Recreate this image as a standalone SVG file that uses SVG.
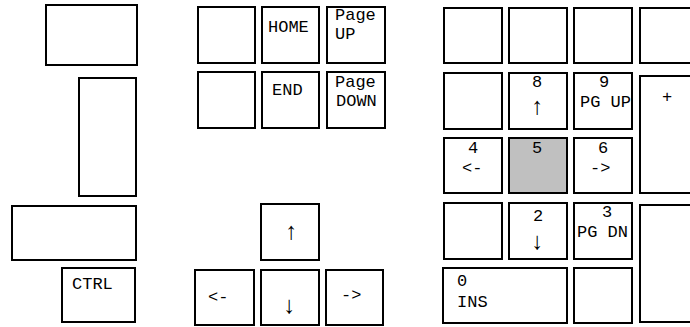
<svg xmlns="http://www.w3.org/2000/svg" width="690" height="327" viewBox="0 0 690 327">
<style>
.k{fill:#fff;stroke:#000;stroke-width:2}
.g{fill:#c0c0c0;stroke:#000;stroke-width:2}
.t{font-family:"Liberation Mono","DejaVu Sans Mono",monospace;font-size:17px;fill:#000}
.m{text-anchor:middle}
.a{font-size:24px}
</style>
<rect width="690" height="327" fill="#fff"/>
<g id="left-a"><rect class="k" x="46" y="5" width="91" height="60"/></g>
<g id="left-b"><rect class="k" x="79" y="78" width="57" height="118"/></g>
<g id="left-c"><rect class="k" x="12" y="206" width="124" height="54"/></g>
<g id="ctrl"><rect class="k" x="62" y="268" width="73" height="54"/><text class="t" x="72" y="289">CTRL</text></g>

<g id="ins-blank"><rect class="k" x="198" y="7" width="57" height="56"/></g>
<g id="home"><rect class="k" x="262" y="7" width="57" height="56"/><text class="t" x="268" y="32">HOME</text></g>
<g id="pageup"><rect class="k" x="327" y="7" width="58" height="56"/><text class="t" x="335" y="20">Page</text><text class="t" x="335" y="39">UP</text></g>
<g id="del-blank"><rect class="k" x="198" y="72" width="57" height="56"/></g>
<g id="end"><rect class="k" x="262" y="72" width="57" height="56"/><text class="t" x="272" y="95">END</text></g>
<g id="pagedown"><rect class="k" x="327" y="72" width="58" height="56"/><text class="t" x="335" y="87">Page</text><text class="t" x="336" y="106">DOWN</text></g>

<g id="arrow-up"><rect class="k" x="261" y="204" width="58" height="56"/><text class="t m a" x="291" y="239">↑</text></g>
<g id="arrow-left"><rect class="k" x="195" y="270" width="59" height="55"/><text class="t" x="208" y="302">&lt;-</text></g>
<g id="arrow-down"><rect class="k" x="261" y="270" width="58" height="55"/><text class="t m a" x="289" y="313">↓</text></g>
<g id="arrow-right"><rect class="k" x="326" y="270" width="57" height="55"/><text class="t" x="341" y="300">-&gt;</text></g>

<g id="num-lock"><rect class="k" x="444" y="8" width="58" height="55"/></g>
<g id="num-div"><rect class="k" x="509" y="8" width="58" height="55"/></g>
<g id="num-mul"><rect class="k" x="574" y="8" width="58" height="55"/></g>
<g id="num-minus"><rect class="k" x="640" y="8" width="60" height="55"/></g>

<g id="num-7"><rect class="k" x="444" y="73" width="58" height="56"/></g>
<g id="num-8"><rect class="k" x="509" y="73" width="58" height="56"/><text class="t m" x="537" y="87">8</text><text class="t m a" x="537" y="114">↑</text></g>
<g id="num-9"><rect class="k" x="574" y="73" width="58" height="56"/><text class="t m" x="604" y="87">9</text><text class="t" x="580" y="107">PG UP</text></g>
<g id="num-plus"><rect class="k" x="640" y="76" width="60" height="117"/><text class="t m" x="667" y="102">+</text></g>

<g id="num-4"><rect class="k" x="444" y="138" width="58" height="55"/><text class="t m" x="473" y="153">4</text><text class="t" x="462" y="173">&lt;-</text></g>
<g id="num-5"><rect class="g" x="509" y="138" width="58" height="55"/><text class="t m" x="537" y="153">5</text></g>
<g id="num-6"><rect class="k" x="574" y="138" width="58" height="55"/><text class="t m" x="603" y="153">6</text><text class="t" x="590" y="173">-&gt;</text></g>

<g id="num-1"><rect class="k" x="444" y="203" width="58" height="56"/></g>
<g id="num-2"><rect class="k" x="509" y="203" width="58" height="56"/><text class="t m" x="538" y="221">2</text><text class="t m a" x="537" y="249">↓</text></g>
<g id="num-3"><rect class="k" x="574" y="203" width="58" height="56"/><text class="t m" x="607" y="217">3</text><text class="t" x="577" y="237">PG DN</text></g>
<g id="num-enter"><rect class="k" x="640" y="205" width="60" height="117"/></g>

<g id="num-0"><rect class="k" x="443" y="268" width="124" height="55"/><text class="t" x="457" y="286">0</text><text class="t" x="457" y="307">INS</text></g>
<g id="num-dot"><rect class="k" x="574" y="268" width="58" height="55"/></g>
</svg>
